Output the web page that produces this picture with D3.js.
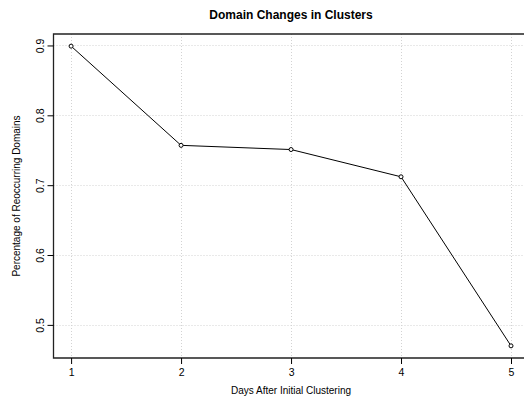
<!DOCTYPE html>
<html><head><meta charset="utf-8">
<script src="https://cdn.jsdelivr.net/npm/d3@7"></script>
<style>html,body{margin:0;padding:0;background:#fff;overflow:hidden}svg{display:block}text{font-family:"Liberation Sans",Arial,Helvetica,sans-serif;fill:#000}</style>
</head><body>
<script>
const days = [1, 2, 3, 4, 5];
const pct = [0.899, 0.757, 0.751, 0.712, 0.470];
const xTicks = [1, 2, 3, 4, 5];
const yTicks = [0.5, 0.6, 0.7, 0.8, 0.9];
const title = "Domain Changes in Clusters";
const xLabel = "Days After Initial Clustering";
const yLabel = "Percentage of Reoccurring Domains";

const W = 524, H = 399;
const L = 53.5, R = 528.6, T = 34, B = 358;
const svg = d3.select("body").append("svg").attr("width", W).attr("height", H);

const x = d3.scaleLinear().domain([0.84, 5.16]).range([L, R]);
const y = d3.scaleLinear().domain([0.4526, 0.9164]).range([B, T]);

// grid
const g = svg.append("g");
g.selectAll(".gx").data(xTicks).join("line")
  .attr("x1", d => Math.round(x(d)) + 0.5).attr("x2", d => Math.round(x(d)) + 0.5)
  .attr("y1", T).attr("y2", B)
  .attr("stroke", "#d3d3d3").attr("stroke-dasharray", "1,2");
g.selectAll(".gy").data(yTicks).join("line")
  .attr("y1", d => Math.round(y(d)) + 0.5).attr("y2", d => Math.round(y(d)) + 0.5)
  .attr("x1", L).attr("x2", W)
  .attr("stroke", "#d3d3d3").attr("stroke-dasharray", "1,2");

// box (right side falls outside the picture)
svg.append("path").attr("d", `M${W + 10},${T}H${L}V${B}H${W + 10}`)
  .attr("fill", "none").attr("stroke", "#222").attr("stroke-width", 1.3);

// axes
const xAxis = d3.axisBottom(x).tickValues(xTicks).tickSize(6).tickPadding(5).tickFormat(d3.format("d"));
const gx = svg.append("g").attr("transform", `translate(0,${B})`).call(xAxis);
gx.select(".domain").remove();
gx.selectAll("text").attr("font-size", 10.5).style("font-family", '"Liberation Sans",Arial,sans-serif');

const yAxis = d3.axisLeft(y).tickValues(yTicks).tickSize(6).tickFormat(d3.format(".1f"));
const gy = svg.append("g").attr("transform", `translate(${L},0)`).call(yAxis);
gy.select(".domain").remove();
gy.selectAll("text")
  .attr("font-size", 10.5).style("font-family", '"Liberation Sans",Arial,sans-serif')
  .attr("x", null).attr("dy", null)
  .attr("text-anchor", "middle")
  .attr("transform", "translate(-10,0) rotate(-90)");

// line
svg.append("path").datum(days.map((d, i) => [d, pct[i]]))
  .attr("fill", "none").attr("stroke", "#000").attr("stroke-width", 1)
  .attr("d", d3.line().x(d => x(d[0])).y(d => y(d[1])));
svg.selectAll(".pt").data(days.map((d, i) => [d, pct[i]])).join("circle")
  .attr("cx", d => x(d[0])).attr("cy", d => y(d[1])).attr("r", 2)
  .attr("fill", "#fff").attr("stroke", "#000").attr("stroke-width", 1);

// labels
svg.append("text").attr("x", 291).attr("y", 19).attr("text-anchor", "middle")
  .attr("font-size", 12).attr("font-weight", "bold").text(title);
svg.append("text").attr("x", 291).attr("y", 394).attr("text-anchor", "middle")
  .attr("font-size", 10).text(xLabel);
svg.append("text").attr("transform", `translate(20,${(T + B) / 2}) rotate(-90)`)
  .attr("text-anchor", "middle").attr("font-size", 10).text(yLabel);
</script>
</body></html>
